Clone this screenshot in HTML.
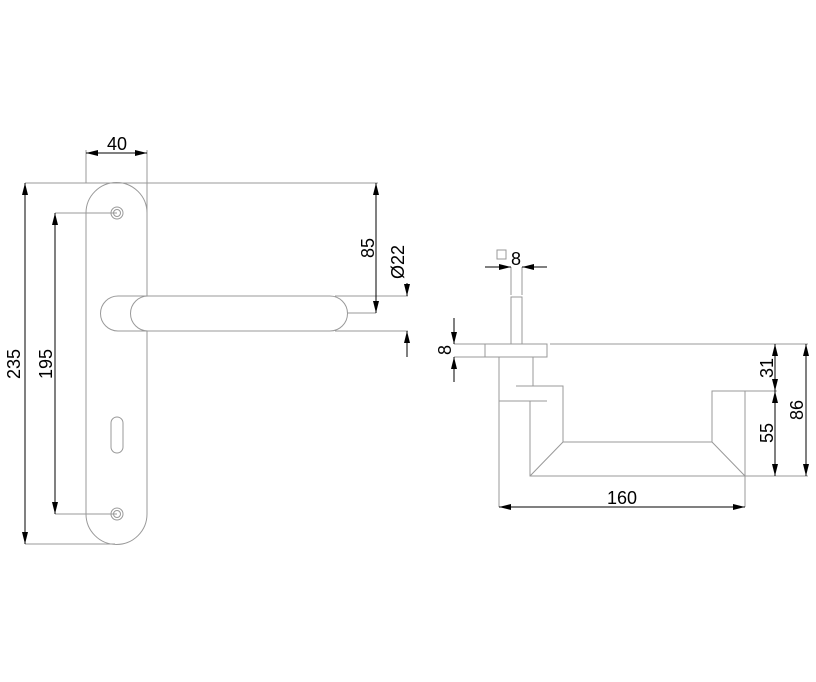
<!DOCTYPE html>
<html><head><style>html,body{margin:0;padding:0;background:#fff}svg{display:block}</style></head><body>
<svg width="816" height="682" viewBox="0 0 816 682" xmlns="http://www.w3.org/2000/svg" font-family="Liberation Sans, sans-serif" font-size="18">
<defs>
<marker id="a" viewBox="0 0 12 6" refX="12" refY="3" markerWidth="12" markerHeight="6" markerUnits="userSpaceOnUse" orient="auto-start-reverse"><path d="M0,0 L12,3 L0,6 Z" fill="#000"/></marker>
</defs>
<g fill="none" stroke="#999" stroke-width="1">
<!-- plate -->
<path d="M147,296 L147,213 A30.5,30.5 0 0 0 86,213 L86,514 A30.5,30.5 0 0 0 147,514 L147,331"/>
<circle cx="117" cy="213" r="6"/><circle cx="117" cy="213" r="3.5"/>
<circle cx="117" cy="514" r="6"/><circle cx="117" cy="514" r="3.5"/>
<rect x="111" y="417" width="12" height="36" rx="6"/>
<!-- lever -->
<path d="M147,296 H118 A17.5,17.5 0 0 0 118,331 H147"/>
<path d="M148,296 L330,296 A17.5,17.5 0 0 1 330,331 L148,331 A17.5,17.5 0 0 1 148,296"/>
<!-- extension lines left view -->
<path d="M86,150 V183 M147,150 V296 M25,183 H378 M25,544 H115 M55,213 H117 M55,514 H117 M335,296 H408 M335,331 H408 M347,313 H376"/>
<!-- right view -->
<rect x="511" y="297" width="11" height="47"/>
<rect x="485" y="344" width="62" height="13"/>
<path d="M511,267 V295 M522,267 V295 M550,344 H808 M454,344 H485 M454,357 H485"/>
<path d="M499,357 V402 M533,357 V386 M499,401 H547 M516,386 H563 V442 H712 V391 H745 V476 H530 V401 M563,442 L530,476 M712,442 L745,476"/>
<path d="M499,402 V507 M745,476 V507 M745,391 H777 M745,476 H808"/>
<rect x="497" y="250" width="9" height="9"/>
</g>
<g stroke="#000" stroke-width="1" fill="none">
<line x1="86" y1="153" x2="147" y2="153" marker-start="url(#a)" marker-end="url(#a)"/>
<line x1="25" y1="183" x2="25" y2="544" marker-start="url(#a)" marker-end="url(#a)"/>
<line x1="55" y1="213" x2="55" y2="514" marker-start="url(#a)" marker-end="url(#a)"/>
<line x1="376" y1="183" x2="376" y2="313" marker-start="url(#a)" marker-end="url(#a)"/>
<line x1="407" y1="283" x2="407" y2="296" marker-end="url(#a)"/>
<line x1="407" y1="357" x2="407" y2="331" marker-end="url(#a)"/>
<line x1="485" y1="267" x2="511" y2="267" marker-end="url(#a)"/>
<line x1="547" y1="267" x2="522" y2="267" marker-end="url(#a)"/>
<line x1="454" y1="318" x2="454" y2="344" marker-end="url(#a)"/>
<line x1="454" y1="382" x2="454" y2="357" marker-end="url(#a)"/>
<line x1="499" y1="507" x2="745" y2="507" marker-start="url(#a)" marker-end="url(#a)"/>
<line x1="775" y1="344" x2="775" y2="391" marker-start="url(#a)" marker-end="url(#a)"/>
<line x1="775" y1="391" x2="775" y2="476" marker-start="url(#a)" marker-end="url(#a)"/>
<line x1="806" y1="344" x2="806" y2="476" marker-start="url(#a)" marker-end="url(#a)"/>
</g>
<g fill="#000">
<text x="117" y="150" text-anchor="middle">40</text>
<text x="622" y="504" text-anchor="middle">160</text>
<text x="516" y="265" text-anchor="middle">8</text>
<text transform="translate(20,364) rotate(-90)" text-anchor="middle">235</text>
<text transform="translate(52,364) rotate(-90)" text-anchor="middle">195</text>
<text transform="translate(374,248) rotate(-90)" text-anchor="middle">85</text>
<text transform="translate(404,262) rotate(-90)" text-anchor="middle">Ø22</text>
<text transform="translate(451,350) rotate(-90)" text-anchor="middle">8</text>
<text transform="translate(773,368) rotate(-90)" text-anchor="middle">31</text>
<text transform="translate(773,433) rotate(-90)" text-anchor="middle">55</text>
<text transform="translate(803,410) rotate(-90)" text-anchor="middle">86</text>
</g>
</svg>
</body></html>
